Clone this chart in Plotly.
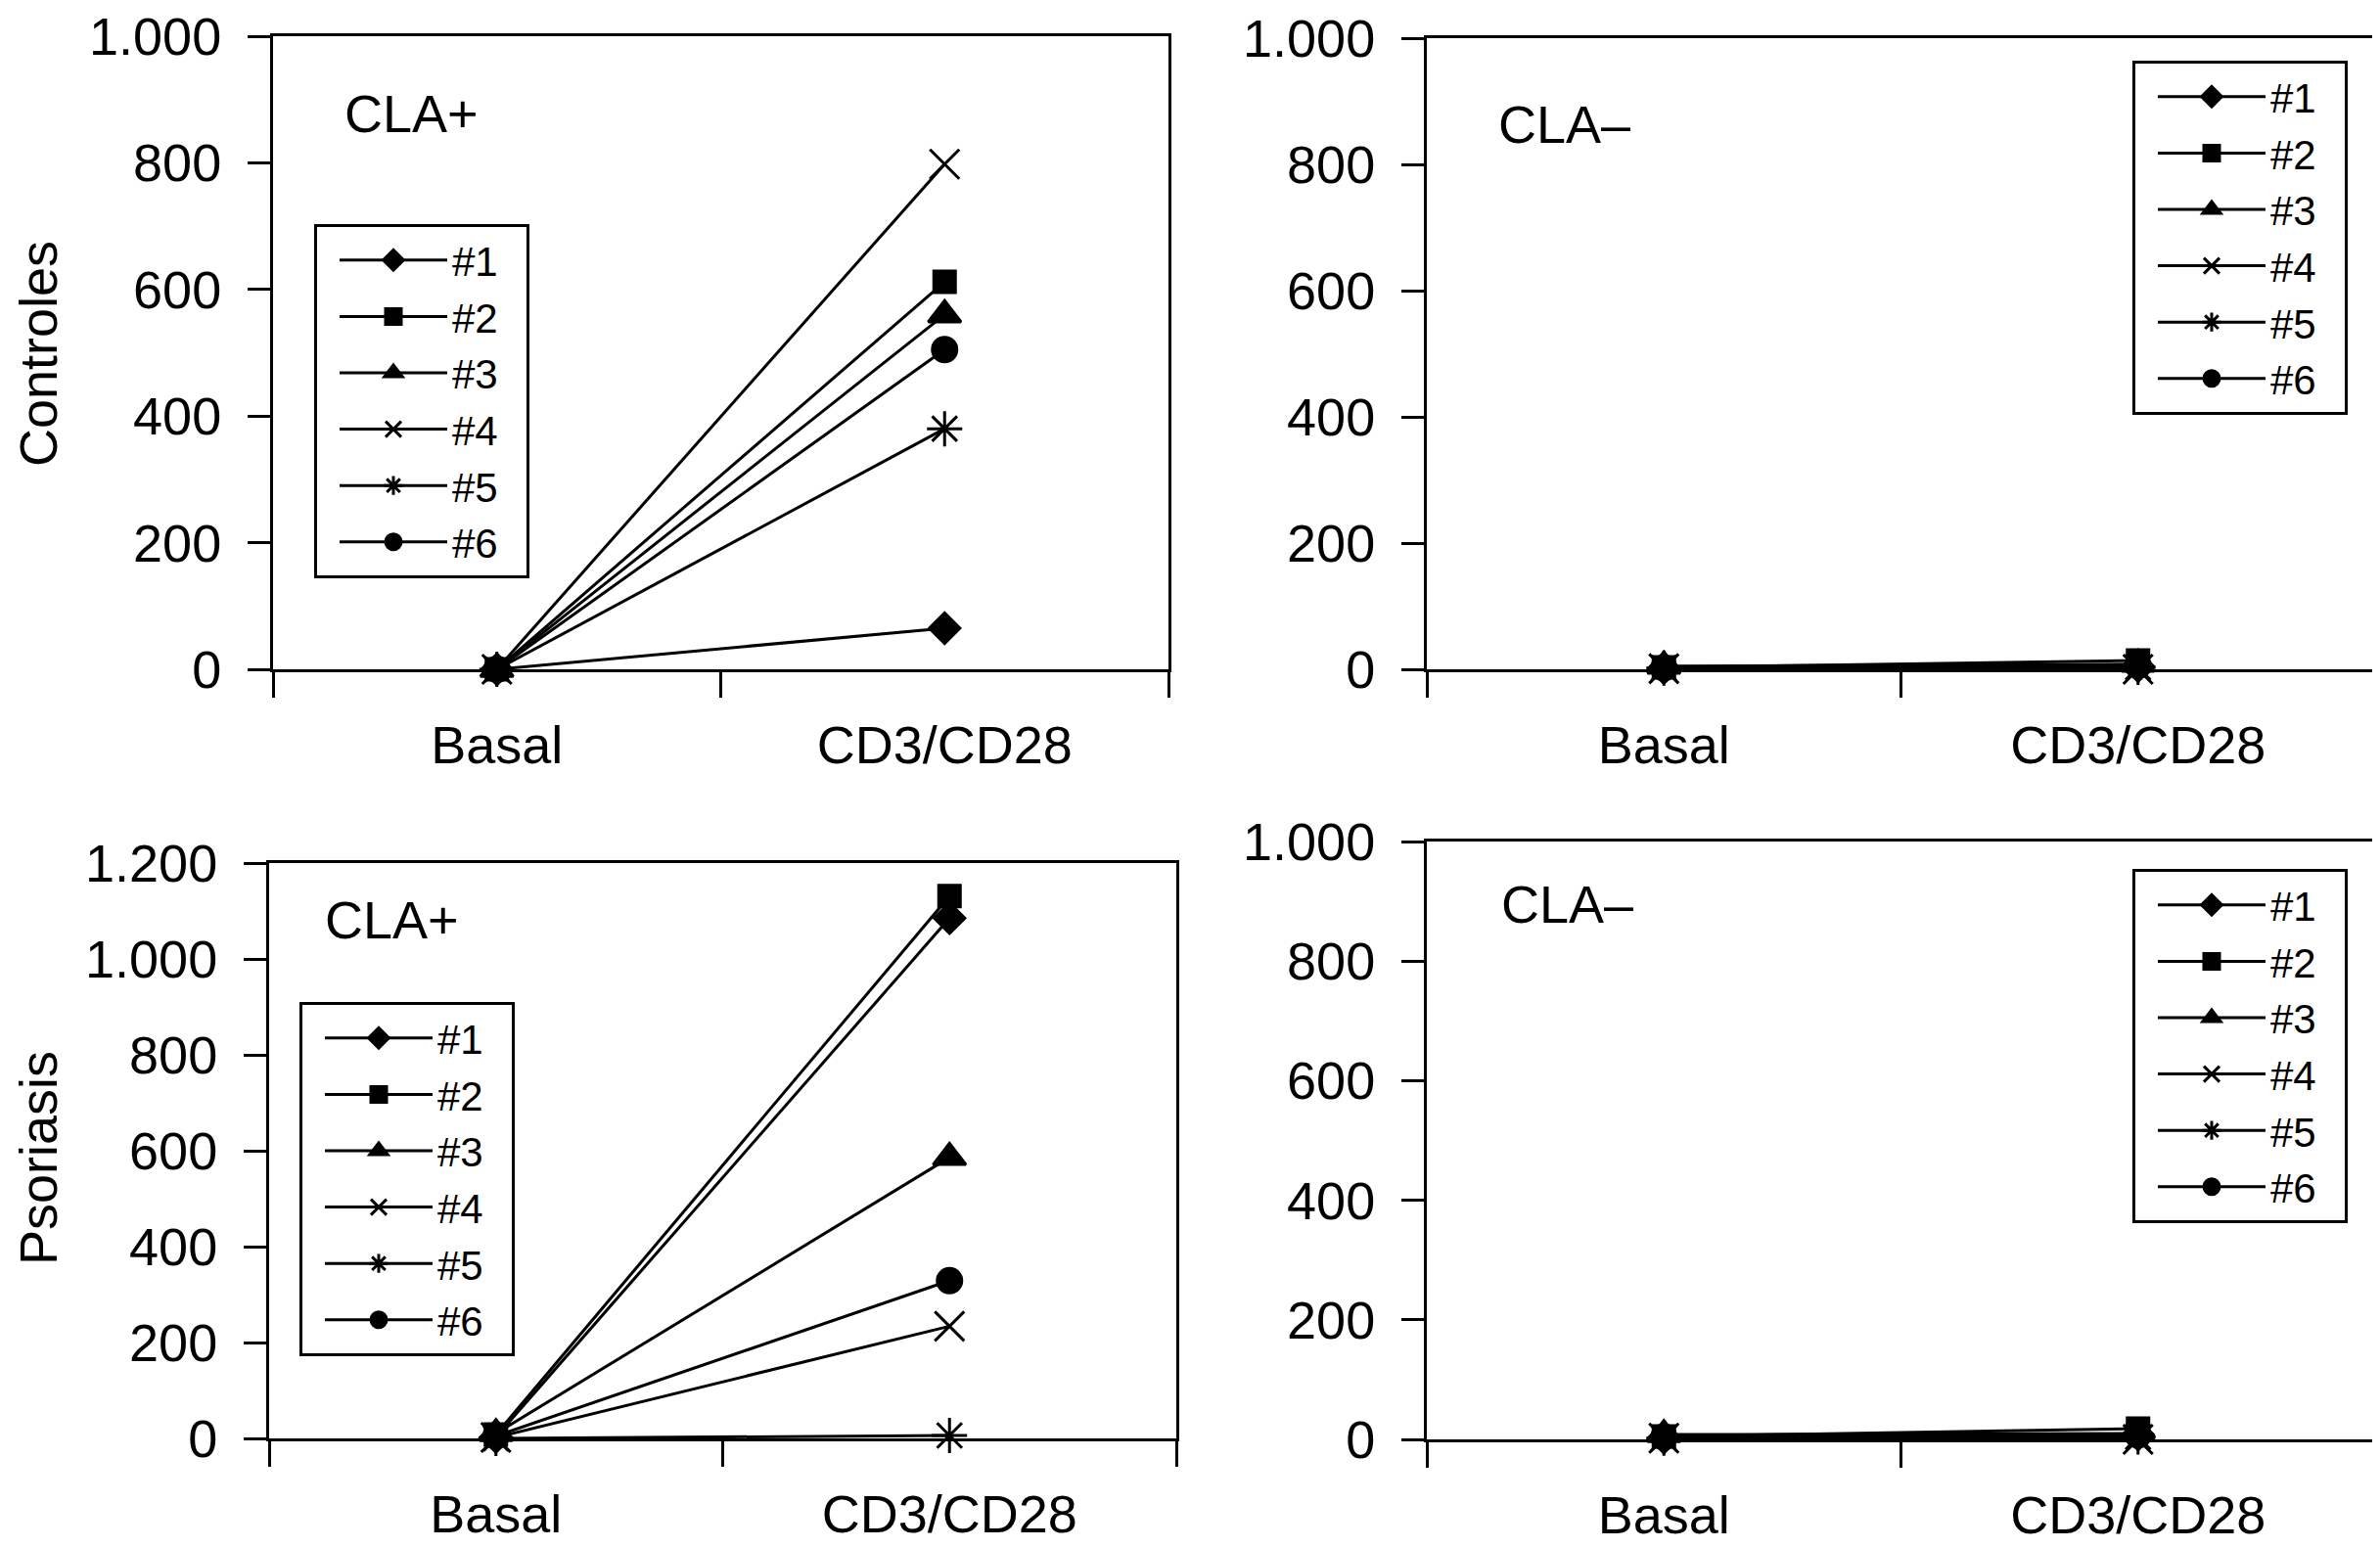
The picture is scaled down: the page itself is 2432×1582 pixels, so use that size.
import plotly.graph_objects as go

# ------------------------------------------------------
# data
# ------------------------------------------------------
categories = ["Basal", "CD3/CD28"]
donors = ["#1", "#2", "#3", "#4", "#5", "#6"]

# Controles, CLA+
ctrl_pos_basal = [0, 0, 0, 0, 0, 0]
ctrl_pos_cd3 = [65, 612, 560, 798, 380, 505]

# Controles, CLA-
ctrl_neg_basal = [2, 3, 5, 1, 2, 2]
ctrl_neg_cd3 = [5, 14, 8, 0, 3, 6]

# Psoriasis, CLA+
psor_pos_basal = [3, 8, 10, 2, 0, 5]
psor_pos_cd3 = [1085, 1131, 586, 234, 6, 329]

# Psoriasis, CLA-
psor_neg_basal = [3, 5, 8, 2, 2, 4]
psor_neg_cd3 = [8, 18, 10, 0, 4, 7]

y_ticks_1000 = [0, 200, 400, 600, 800, 1000]
y_ticks_1200 = [0, 200, 400, 600, 800, 1000, 1200]

symbols = ["diamond", "square", "triangle-up", "x-thin-open", "asterisk-open", "circle"]
sizes = [24, 22, 29, 30, 30, 25]

FONT = "Liberation Sans, Arial, sans-serif"
# the page body has an 8px margin, so the figure is a bit smaller than the window
OFF = 8
W, H = 2432 - OFF, 1582 - OFF

panels = [
    # (basal, cd3, xaxis, yaxis, legend)
    (ctrl_pos_basal, ctrl_pos_cd3, "x", "y", "legend"),
    (ctrl_neg_basal, ctrl_neg_cd3, "x2", "y2", "legend2"),
    (psor_pos_basal, psor_pos_cd3, "x3", "y3", "legend3"),
    (psor_neg_basal, psor_neg_cd3, "x4", "y4", "legend4"),
]

fig = go.Figure()

for basal, cd3, xa, ya, lg in panels:
    for i, name in enumerate(donors):
        fig.add_trace(go.Scatter(
            x=categories,
            y=[basal[i], cd3[i]],
            name=name + "\u00a0\u00a0",
            mode="lines+markers",
            xaxis=xa, yaxis=ya, legend=lg,
            cliponaxis=False,
            line=dict(color="black", width=3),
            marker=dict(symbol=symbols[i], size=sizes[i], color="black",
                        line=dict(color="black", width=3)),
        ))


# positions measured on the 2432x1582 reference -> paper fractions
def px_x(v):
    return (v - OFF) / W


def px_y(v):
    return 1 - (v - OFF) / H


x_common = dict(
    type="category", range=[-0.5, 1.5], tickson="boundaries",
    ticks="outside", ticklen=26, tickwidth=3, tickcolor="black",
    showline=True, linewidth=3, linecolor="black", mirror=True,
    showgrid=False, zeroline=False, ticklabelstandoff=28, automargin=False,
    tickfont=dict(size=54, color="black", family=FONT),
)
y_common = dict(
    ticks="outside", ticklen=23, tickwidth=3, tickcolor="black",
    showline=True, linewidth=3, linecolor="black", mirror=True,
    showgrid=False, zeroline=False, separatethousands=True,
    ticklabelstandoff=16, automargin=False, ticklabeloverflow="allow",
    tickfont=dict(size=54, color="black", family=FONT),
)

legend_common = dict(
    xanchor="left", yanchor="top",
    bordercolor="black", borderwidth=3, bgcolor="white",
    font=dict(size=42, color="black", family=FONT),
    itemwidth=110, indentation=18, tracegroupgap=0,
)

fig.update_layout(
    width=W, height=H,
    margin=dict(l=0, r=0, t=0, b=0),
    paper_bgcolor="white", plot_bgcolor="white",
    separators=",.",
    font=dict(family=FONT, color="black"),
    showlegend=True,

    xaxis=dict(domain=[px_x(279), px_x(1194)], anchor="y", **x_common),
    yaxis=dict(domain=[px_y(684), px_y(37)], anchor="x", range=[0, 1000],
               tickvals=y_ticks_1000, **y_common),

    xaxis2=dict(domain=[px_x(1458), px_x(2427)], anchor="y2", **x_common),
    yaxis2=dict(domain=[px_y(684), px_y(39)], anchor="x2", range=[0, 1000],
                tickvals=y_ticks_1000, **y_common),

    xaxis3=dict(domain=[px_x(275), px_x(1202)], anchor="y3", **x_common),
    yaxis3=dict(domain=[px_y(1470), px_y(882)], anchor="x3", range=[0, 1200],
                tickvals=y_ticks_1200, **y_common),

    xaxis4=dict(domain=[px_x(1458), px_x(2427)], anchor="y4", **x_common),
    yaxis4=dict(domain=[px_y(1471), px_y(860)], anchor="x4", range=[0, 1000],
                tickvals=y_ticks_1000, **y_common),

    legend=dict(x=px_x(321), y=px_y(229), **legend_common),
    legend2=dict(x=px_x(2179), y=px_y(62), **legend_common),
    legend3=dict(x=px_x(306), y=px_y(1024), **legend_common),
    legend4=dict(x=px_x(2179), y=px_y(888), **legend_common),
)

# panel labels
labels = [
    ("CLA+", 350, 116),
    ("CLA\u2013", 1529, 127),
    ("CLA+", 330, 940),
    ("CLA\u2013", 1532, 924),
]
for text, lx, ly in labels:
    fig.add_annotation(
        text=text, xref="paper", yref="paper", x=px_x(lx), y=px_y(ly),
        xanchor="left", yanchor="middle", showarrow=False,
        font=dict(size=54, color="black", family=FONT),
    )

# row titles
for text, ty in [("Controles", 362), ("Psoriasis", 1184)]:
    fig.add_annotation(
        text=text, xref="paper", yref="paper", x=0, y=px_y(ty),
        xanchor="left", yanchor="middle", textangle=-90, showarrow=False,
        borderpad=0,
        font=dict(size=54, color="black", family=FONT),
    )

fig.write_html("out.html")
